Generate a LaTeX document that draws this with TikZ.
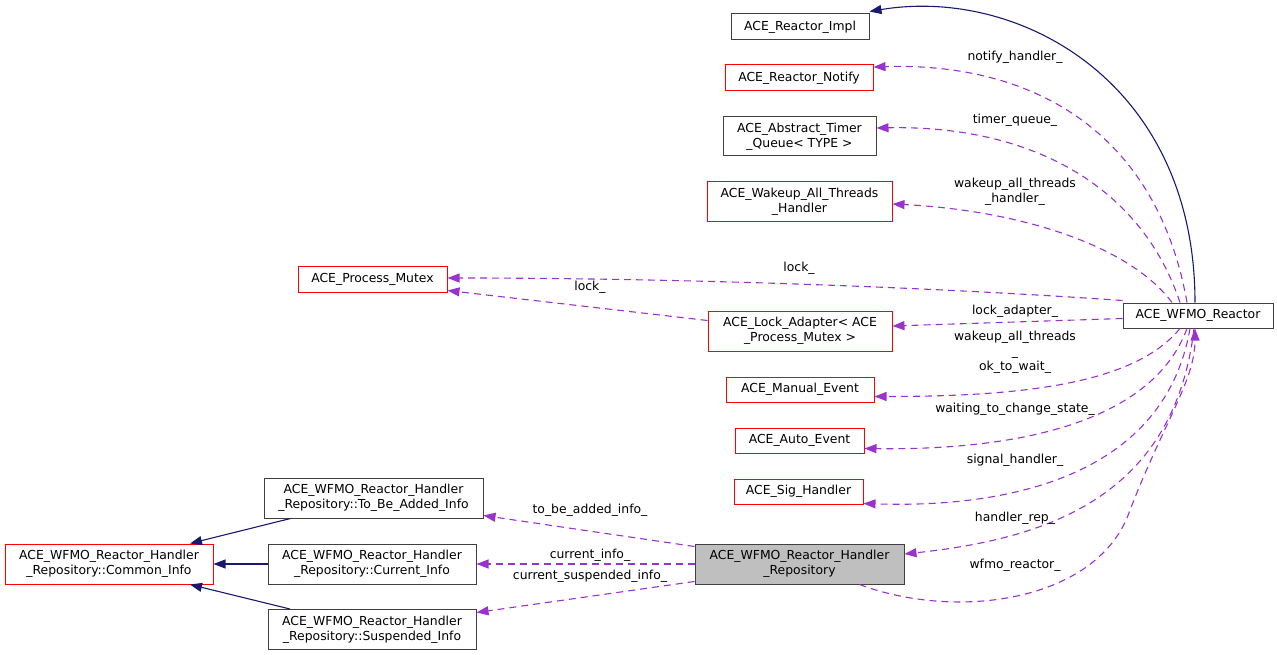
\documentclass[tikz,border=0pt]{standalone}
\usepackage{fontspec}
\setmainfont{DejaVu Sans}
\usetikzlibrary{arrows.meta}
\definecolor{edgepurple}{HTML}{9A32CD}
\definecolor{inhnavy}{HTML}{191970}
\definecolor{boxred}{HTML}{FF0000}
\definecolor{boxgray}{HTML}{404040}
\definecolor{fillgray}{HTML}{BFBFBF}
\begin{document}
\begin{tikzpicture}[x=1pt,y=-1pt,
  cls/.style={draw=boxgray, line width=1pt, fill=white, inner sep=0pt, align=center,
    font=\fontsize{12.4}{15}\selectfont},
  redcls/.style={cls, draw=boxred},
  curcls/.style={cls, fill=fillgray},
  useedge/.style={draw=edgepurple, line width=1.1pt, dash pattern=on 7pt off 5pt,
    -{Triangle[length=12pt,width=9pt,fill=edgepurple]}},
  inhedge/.style={draw=inhnavy, line width=1.1pt,
    -{Triangle[length=12pt,width=9pt,fill=inhnavy]}},
  lbl/.style={font=\fontsize{12.4}{15}\selectfont, align=center, inner sep=0pt}
]
\useasboundingbox (0,0) rectangle (1277,655);

% nodes
\node[cls, minimum width=138pt, minimum height=26pt] (impl) at (800,27) {ACE\_Reactor\_Impl};
\node[redcls, minimum width=148pt, minimum height=26pt] (notify) at (799,78) {ACE\_Reactor\_Notify};
\node[cls, minimum width=153pt, minimum height=39pt] (timer) at (799.5,136.5) {ACE\_Abstract\_Timer\\\_Queue< TYPE >};
\node[redcls, minimum width=185pt, minimum height=40pt] (wakeh) at (799.5,202) {ACE\_Wakeup\_All\_Threads\\\_Handler};
\node[redcls, minimum width=149pt, minimum height=26pt] (pmutex) at (372.5,279) {ACE\_Process\_Mutex};
\node[redcls, minimum width=184pt, minimum height=40pt] (ladapt) at (800,331) {ACE\_Lock\_Adapter< ACE\\\_Process\_Mutex >};
\node[cls, minimum width=150pt, minimum height=25pt] (wfmo) at (1198,315.5) {ACE\_WFMO\_Reactor};
\node[redcls, minimum width=148pt, minimum height=25pt] (manual) at (800,389.5) {ACE\_Manual\_Event};
\node[redcls, minimum width=129pt, minimum height=25pt] (auto) at (799.5,440.5) {ACE\_Auto\_Event};
\node[redcls, minimum width=129pt, minimum height=25pt] (sig) at (798.5,491.5) {ACE\_Sig\_Handler};
\node[curcls, minimum width=209pt, minimum height=40pt] (hrep) at (799.5,564) {ACE\_WFMO\_Reactor\_Handler\\\_Repository};
\node[cls, minimum width=219pt, minimum height=40pt] (tbai) at (373.5,498) {ACE\_WFMO\_Reactor\_Handler\\\_Repository::To\_Be\_Added\_Info};
\node[cls, minimum width=208pt, minimum height=40pt] (curi) at (372,564) {ACE\_WFMO\_Reactor\_Handler\\\_Repository::Current\_Info};
\node[cls, minimum width=208pt, minimum height=40pt] (susi) at (372,629.5) {ACE\_WFMO\_Reactor\_Handler\\\_Repository::Suspended\_Info};
\node[redcls, minimum width=208pt, minimum height=40pt] (comi) at (109,564) {ACE\_WFMO\_Reactor\_Handler\\\_Repository::Common\_Info};

% inheritance
\draw[inhedge] ([xshift=-3pt]wfmo.north) .. controls ++(0,-220) and ++(150,-25) .. ([yshift=2pt]impl.north east);
\draw[inhedge] ([xshift=-83pt]tbai.south) -- ([xshift=81pt]comi.north);
\draw[inhedge] (curi.west) -- (comi.east);
\draw[inhedge] ([xshift=-82pt]susi.north) -- ([xshift=81pt]comi.south);

% usage edges from ACE_WFMO_Reactor
\draw[useedge] ([xshift=-11pt]wfmo.north) .. controls ++(-30,-170) and ++(160,-5) .. ([yshift=11pt]notify.east);
\draw[useedge] ([xshift=-18pt]wfmo.north) .. controls ++(-40,-120) and ++(150,-3) .. ([yshift=8.5pt]timer.east);
\draw[useedge] ([xshift=-26pt]wfmo.north) .. controls ++(-45,-60) and ++(120,6) .. ([yshift=-2pt]wakeh.east);
\draw[useedge] ([yshift=2pt]wfmo.north west) .. controls (900,285) and (650,278) .. ([yshift=1pt]pmutex.east);
\draw[useedge] ([yshift=-10pt]ladapt.north west) -- ([yshift=2pt]pmutex.south east);
\draw[useedge] ([yshift=-3pt]wfmo.west) -- ([yshift=5pt]ladapt.east);
\draw[useedge] ([xshift=-18pt]wfmo.south) .. controls ++(-45,55) and ++(150,0) .. ([yshift=-7pt]manual.east);
\draw[useedge] ([xshift=-11pt]wfmo.south) .. controls ++(-35,95) and ++(150,2) .. ([yshift=-8pt]auto.east);
\draw[useedge] ([xshift=-8pt]wfmo.south) .. controls ++(-25,145) and ++(150,5) .. ([yshift=-12pt]sig.east);
\draw[useedge] ([xshift=-4pt]wfmo.south) .. controls ++(-20,170) and ++(140,-15) .. ([yshift=10pt]hrep.east);
\draw[useedge] ([xshift=60pt]hrep.south) .. controls (960,622) and (1100,600) .. (1130,510)
   .. controls (1165,420) and (1195,380) .. ([xshift=-3pt]wfmo.south);

% usage edges from Handler_Repository
\draw[useedge] ([yshift=-3pt]hrep.north west) -- ([yshift=3pt]tbai.south east);
\draw[useedge] (hrep.west) -- (curi.east);
\draw[useedge] ([yshift=3pt]hrep.south west) -- ([yshift=17pt]susi.east);

% labels
\node[lbl] (lnotify) at (1015,57) {notify\_handler\_};
\node[lbl] (ltimer) at (1015,120) {timer\_queue\_};
\node[lbl] (lwakeh) at (1015,191.5) {wakeup\_all\_threads\\\_handler\_};
\node[lbl] (llock1) at (799,268) {lock\_};
\node[lbl] (llock2) at (590,287) {lock\_};
\node[lbl] (lladapt) at (1015,311) {lock\_adapter\_};
\node[lbl] (lok) at (1015,352.5) {wakeup\_all\_threads\\\_\\ok\_to\_wait\_};
\node[lbl] (lwait) at (1015,409) {waiting\_to\_change\_state\_};
\node[lbl] (lsig) at (1015,460) {signal\_handler\_};
\node[lbl] (lhrep) at (1015,518) {handler\_rep\_};
\node[lbl] (lwfmo) at (1015,565) {wfmo\_reactor\_};
\node[lbl] (ltbai) at (590,510) {to\_be\_added\_info\_};
\node[lbl] (lcuri) at (590,555) {current\_info\_};
\node[lbl] (lcsus) at (590,576) {current\_suspended\_info\_};
\end{tikzpicture}
\end{document}
